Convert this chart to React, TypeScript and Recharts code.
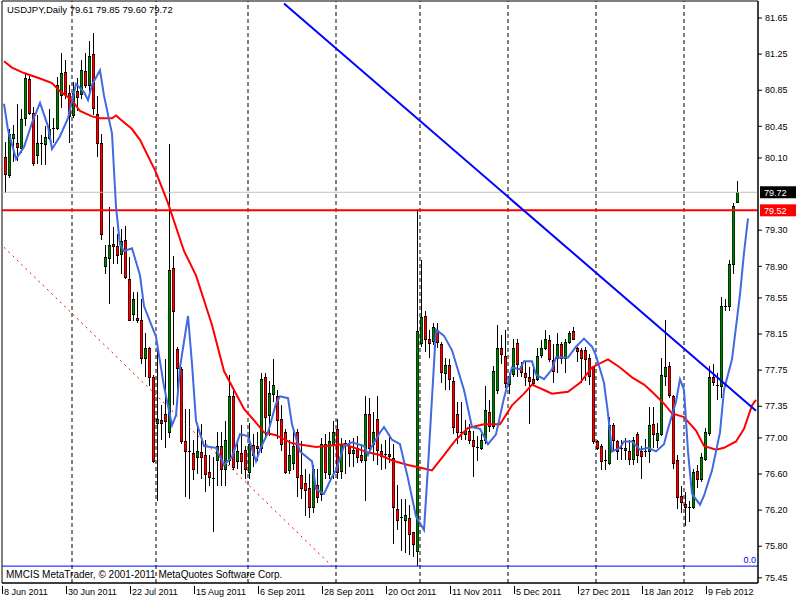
import { Bar, ComposedChart, Line, ReferenceArea, ReferenceLine, XAxis, YAxis } from 'recharts';

const FONT = '"Liberation Sans", Arial, sans-serif';
const Y_MIN = 75.393;
const Y_MAX = 81.838;
// bars on screen plus the room taken by the shifted moving averages
const SLOTS = 189;

const opens = [
  80.11, 79.91, 80.32, 80.26, 80.21, 80.54, 80.97, 80.6, 80.13, 80.25, 80.25, 80.32, 80.42, 80.43, 80.8, 81.05,
  80.82, 80.58, 80.84, 80.81, 81.06, 80.91, 81.25, 80.59, 80.26, 78.9, 78.99, 79.15, 79.12, 79.04, 79.19, 78.76,
  78.37, 78.33, 78.3, 77.89, 77.99, 77.67, 77.17, 77.2, 77.27, 77.06, 78.88, 77.98, 77.76, 76.96, 76.86, 76.83,
  76.79, 76.84, 76.81, 76.62, 76.56, 76.76, 76.91, 76.66, 76.76, 77.46, 76.74, 76.83, 76.87, 76.62, 76.92, 76.91,
  76.89, 77.67, 77.25, 77.49, 77.46, 77.21, 77.06, 76.64, 76.72, 77.07, 76.59, 76.5, 76.45, 76.23, 76.48, 76.38,
  76.93, 76.6, 76.93, 77.1, 76.63, 76.93, 76.91, 76.83, 76.89, 76.81, 76.76, 77.27, 76.93, 77.21, 76.85, 76.81,
  76.82, 76.78, 76.21, 76.11, 76.09, 76.11, 75.96, 75.75, 78.05, 78.35, 78.1, 78.07, 78.2, 78.04, 77.72, 77.81,
  77.63, 77.27, 77.06, 77.04, 77.08, 76.98, 76.89, 76.89, 76.98, 77.29, 77.13, 77.53, 77.99, 77.91, 77.6, 77.71,
  78.05, 77.8, 77.72, 77.67, 77.65, 77.65, 77.92, 77.99, 78.08, 77.86, 77.89, 78.04, 77.89, 78.06, 78.18, 77.99,
  77.97, 77.97, 77.89, 77.78, 76.96, 76.91, 76.76, 76.72, 77.14, 76.96, 76.89, 76.87, 76.86, 76.77, 77.04, 76.85,
  76.84, 76.85, 77.15, 76.98, 77.04, 77.69, 77.8, 77.46, 76.76, 76.36, 76.27, 76.24, 76.23, 76.63, 76.55, 76.77,
  77.05, 77.67, 77.59, 77.57, 78.45, 78.46, 78.93, 79.61,
];
const highs = [
  80.28, 80.42, 80.47, 80.7, 80.64, 81.04, 81.02, 80.66, 80.58, 80.35, 80.45, 80.64, 80.54, 81.0, 81.26, 81.19,
  80.91, 80.94, 80.98, 81.18, 81.26, 81.4, 81.48, 80.79, 80.37, 79.14, 79.56, 79.33, 79.26, 79.31, 79.35, 79.0,
  78.61, 78.61, 78.54, 78.16, 78.01, 77.7, 78.04, 77.36, 77.87, 80.25, 79.01, 78.01, 77.78, 77.32, 77.32, 76.98,
  77.17, 77.15, 76.98, 76.81, 76.79, 77.06, 77.06, 77.19, 77.7, 77.53, 76.98, 77.14, 76.91, 77.17, 77.04, 77.06,
  77.72, 77.72, 77.63, 77.87, 77.53, 77.36, 77.1, 76.98, 77.1, 77.1, 76.96, 76.66, 76.6, 76.7, 76.66, 77.0,
  77.04, 77.06, 77.19, 77.21, 77.0, 76.98, 76.98, 77.0, 77.02, 76.93, 77.46, 77.44, 77.29, 77.46, 76.93, 76.98,
  77.04, 76.93, 76.48, 76.32, 76.32, 76.26, 75.96, 79.53, 78.97, 78.41, 78.2, 78.27, 78.27, 78.06, 77.89, 77.87,
  77.67, 77.4, 77.4, 77.2, 77.15, 77.08, 77.02, 77.04, 77.57, 77.42, 77.8, 78.25, 78.14, 78.2, 77.72, 78.1,
  78.1, 77.84, 77.84, 77.78, 77.78, 77.99, 78.08, 78.2, 78.14, 78.04, 78.16, 78.06, 78.1, 78.18, 78.23, 78.01,
  77.99, 78.01, 77.93, 77.8, 76.98, 76.93, 76.87, 77.23, 77.17, 76.98, 76.98, 77.0, 76.98, 77.01, 77.06, 76.91,
  76.99, 77.34, 77.34, 77.17, 77.89, 78.31, 77.84, 77.48, 76.81, 76.47, 76.4, 76.3, 76.65, 76.7, 76.83, 77.11,
  77.8, 77.82, 77.72, 78.56, 78.54, 78.97, 79.6, 79.85,
];
const lows = [
  79.71, 79.88, 80.05, 80.07, 80.16, 80.45, 80.58, 80.01, 80.03, 80.02, 80.02, 80.3, 80.26, 80.41, 80.65, 80.75,
  80.26, 80.54, 80.62, 80.75, 80.87, 80.79, 80.58, 80.11, 79.19, 78.81, 78.48, 78.93, 78.93, 78.82, 78.76, 78.3,
  78.29, 78.27, 77.82, 77.67, 77.57, 76.72, 76.3, 76.98, 76.89, 77.0, 77.36, 77.48, 76.93, 76.34, 76.32, 76.53,
  76.6, 76.55, 76.4, 76.47, 75.96, 76.47, 76.47, 76.47, 76.7, 76.64, 76.66, 76.6, 76.55, 76.55, 76.68, 76.74,
  76.83, 77.02, 77.02, 77.4, 76.99, 76.85, 76.6, 76.6, 76.64, 76.34, 76.32, 76.13, 76.11, 76.17, 76.28, 76.3,
  76.55, 76.55, 76.55, 76.55, 76.55, 76.6, 76.68, 76.68, 76.72, 76.72, 76.3, 76.87, 76.74, 76.7, 76.64, 76.66,
  76.72, 75.83, 75.98, 75.75, 75.72, 75.7, 75.68, 75.58, 78.01, 77.95, 77.89, 78.03, 78.0, 77.61, 77.53, 77.53,
  77.04, 76.93, 76.98, 76.98, 76.93, 76.57, 76.74, 76.87, 76.93, 77.06, 77.1, 77.49, 77.82, 77.55, 77.49, 77.67,
  77.67, 77.67, 77.57, 77.15, 77.59, 77.63, 77.89, 77.97, 77.84, 77.61, 77.72, 77.82, 77.72, 78.04, 78.08, 77.84,
  77.61, 77.63, 77.59, 76.93, 76.87, 76.64, 76.64, 76.7, 76.87, 76.76, 76.76, 76.76, 76.7, 76.7, 76.72, 76.55,
  76.79, 76.72, 76.89, 76.89, 77.02, 77.57, 77.44, 76.66, 76.21, 76.17, 76.02, 76.07, 76.21, 76.45, 76.51, 76.74,
  77.02, 77.57, 77.42, 77.44, 78.41, 78.4, 78.82, 79.6,
];
const closes = [
  79.92, 80.37, 80.37, 80.22, 80.53, 80.98, 80.6, 80.04, 80.27, 80.26, 80.33, 80.42, 80.43, 80.91, 81.04, 80.81,
  80.56, 80.82, 80.78, 81.07, 80.91, 81.23, 80.65, 80.26, 79.26, 79.0, 79.14, 79.12, 79.03, 79.18, 78.78, 78.3,
  78.54, 78.3, 77.89, 77.99, 77.67, 76.74, 77.21, 77.16, 77.19, 78.86, 78.4, 77.77, 76.96, 76.86, 76.84, 76.66,
  76.85, 76.79, 76.6, 76.57, 76.55, 76.91, 76.65, 76.98, 77.46, 76.68, 76.85, 76.74, 76.65, 76.93, 76.81, 76.89,
  77.65, 77.23, 77.5, 77.59, 77.2, 76.93, 76.62, 76.81, 76.91, 76.57, 76.45, 76.42, 76.23, 76.66, 76.35, 76.93,
  76.62, 76.97, 77.06, 76.62, 76.93, 76.94, 76.83, 76.87, 76.79, 76.76, 77.27, 76.89, 77.06, 76.87, 76.8, 76.82,
  76.8, 76.23, 76.09, 76.12, 76.15, 75.94, 75.83, 78.18, 78.34, 78.09, 78.05, 78.23, 78.06, 77.73, 77.81, 77.65,
  77.12, 77.06, 77.07, 77.08, 76.98, 76.91, 76.9, 76.98, 77.31, 77.13, 77.74, 77.99, 77.93, 77.61, 77.69, 77.99,
  77.82, 77.73, 77.67, 77.63, 77.61, 77.91, 77.99, 78.1, 77.87, 77.74, 78.04, 77.89, 78.06, 78.16, 78.1, 77.96,
  77.89, 77.87, 77.68, 76.96, 76.89, 76.74, 76.74, 77.14, 76.98, 76.85, 76.88, 76.89, 76.77, 76.98, 76.81, 76.8,
  76.85, 77.14, 77.04, 77.05, 77.7, 77.79, 77.48, 76.72, 76.35, 76.29, 76.24, 76.23, 76.62, 76.55, 76.79, 77.06,
  77.67, 77.62, 77.58, 78.46, 78.46, 78.93, 79.57, 79.72,
];

const slowMa: [number, number][] = [
  [0, 81.17], [2, 81.1], [5, 81.04], [9, 80.98], [12, 80.93], [14, 80.84], [17, 80.74], [19, 80.62],
  [22, 80.56], [24, 80.54], [27, 80.54], [28, 80.57], [29, 80.53], [32, 80.42], [34, 80.3], [38, 79.94],
  [41, 79.6], [45, 79.07], [48, 78.8], [52, 78.25], [55, 77.74], [60, 77.32], [63, 77.17], [65, 77.06],
  [68, 77.03], [72, 76.94], [78, 76.9], [85, 76.93], [91, 76.84], [94, 76.81], [97, 76.75], [101, 76.7],
  [105, 76.66], [107, 76.64], [110, 76.81], [113, 76.98], [116, 77.11], [120, 77.15], [124, 77.15],
  [127, 77.36], [130, 77.49], [132, 77.59], [135, 77.53], [137, 77.49], [141, 77.51], [144, 77.61],
  [147, 77.78], [151, 77.87], [154, 77.78], [157, 77.67], [160, 77.59], [162, 77.51], [165, 77.38],
  [167, 77.27], [170, 77.23], [173, 77.08], [175, 76.91], [178, 76.87], [180, 76.89], [183, 76.96],
  [185, 77.1], [187, 77.36], [188, 77.42],
];
const fastMa: [number, number][] = [
  [0, 80.7], [1, 80.41], [3, 80.09], [5, 80.22], [7, 80.49], [9, 80.71], [11, 80.45], [12, 80.2],
  [14, 80.34], [16, 80.54], [18, 80.92], [20, 80.83], [21, 80.74], [22, 80.91], [24, 81.07], [25, 80.79],
  [27, 80.37], [28, 79.56], [29, 79.14], [30, 79.07], [32, 79.1], [34, 78.8], [35, 78.46], [38, 78.12],
  [40, 77.57], [42, 77.14], [43, 77.25], [44, 77.78], [46, 78.35], [47, 77.82], [48, 77.19], [50, 76.91],
  [53, 76.89], [55, 76.7], [57, 76.79], [59, 77.04], [61, 77.02], [63, 76.74], [64, 76.87], [66, 77.06],
  [68, 77.38], [69, 77.46], [71, 77.44], [72, 77.15], [74, 76.85], [77, 76.74], [78, 76.43], [80, 76.38],
  [82, 76.57], [83, 76.64], [85, 76.91], [87, 76.95], [90, 76.91], [91, 76.81], [92, 76.91], [94, 77.06],
  [95, 77.12], [97, 76.98], [99, 76.93], [101, 76.55], [103, 76.13], [105, 75.98], [106, 76.68],
  [108, 78.2], [110, 78.13], [112, 77.97], [115, 77.53], [117, 77.12], [119, 77.1], [121, 76.93],
  [123, 77.04], [125, 77.44], [127, 77.78], [129, 77.76], [130, 77.85], [132, 77.85], [133, 77.7],
  [135, 77.65], [137, 77.76], [138, 77.89], [141, 77.89], [143, 78.01], [145, 78.1], [147, 78.01],
  [148, 77.91], [150, 77.61], [151, 77.27], [152, 76.85], [154, 76.89], [155, 76.96], [157, 76.96],
  [159, 76.87], [161, 76.89], [163, 76.85], [165, 76.93], [166, 77.1], [168, 77.4], [169, 77.65],
  [170, 77.53], [171, 76.85], [172, 76.38], [174, 76.26], [175, 76.36], [177, 76.64], [179, 77.06],
  [180, 77.53], [182, 77.87], [184, 78.59], [185, 79.05], [186, 79.43],
];

const dateLabels = [
  '8 Jun 2011', '30 Jun 2011', '22 Jul 2011', '15 Aug 2011', '6 Sep 2011', '28 Sep 2011',
  '20 Oct 2011', '11 Nov 2011', '5 Dec 2011', '27 Dec 2011', '18 Jan 2012', '9 Feb 2012',
];
const LABEL_STEP = 16;
const monthStarts = [17, 38, 61, 83, 104, 126, 148, 170];
const priceTicks = [
  81.65, 81.25, 80.85, 80.45, 80.1, 79.3, 78.9, 78.55, 78.15, 77.75, 77.35, 77.0, 76.6, 76.2, 75.8, 75.45,
];

const bidPrice = 79.72;
const levelPrice = 79.52;
const fiboZero = 75.58;
const trendLine = [{ x: 70, y: 81.81 }, { x: 188, y: 77.3 }];
const fiboLine = [{ x: 0, y: 79.11 }, { x: 82, y: 75.58 }];

const slowByBar = new Map(slowMa);
const fastByBar = new Map(fastMa);

const data = Array.from({ length: SLOTS }, (_, i) => {
  const has = i < closes.length;
  return {
    i,
    range: has ? [lows[i], highs[i]] : null,
    open: has ? opens[i] : null,
    high: has ? highs[i] : null,
    low: has ? lows[i] : null,
    close: has ? closes[i] : null,
    slow: slowByBar.get(i) ?? null,
    fast: fastByBar.get(i) ?? null,
  };
});

function Candle(props: any) {
  const { x, y, width, height, payload } = props;
  if (payload == null || payload.open == null) return null;
  const { open, close, high, low } = payload;
  const top = Math.min(y, y + height);
  const h = Math.abs(height);
  const k = high === low ? 0 : h / (high - low);
  const yOf = (v: number) => top + (high - v) * k;
  const cx = Math.round(x + width / 2);
  const bodyTop = Math.round(yOf(Math.max(open, close)));
  const bodyBot = Math.round(yOf(Math.min(open, close)));
  const up = close > open;
  const wick = <line x1={cx + 0.5} x2={cx + 0.5} y1={top} y2={top + h} stroke="#000" strokeWidth={1} />;
  if (bodyBot - bodyTop < 2) {
    return (
      <g shapeRendering="crispEdges">
        {wick}
        <rect x={cx - 1} y={bodyTop} width={3} height={1} fill="#000" />
      </g>
    );
  }
  return (
    <g shapeRendering="crispEdges">
      {wick}
      <rect x={cx - 1} y={bodyTop} width={3} height={bodyBot - bodyTop + 1} fill={up ? '#008000' : '#ff0000'} />
      <rect x={cx - 1} y={bodyTop} width={3} height={1} fill="#000" />
      <rect x={cx - 1} y={bodyBot} width={3} height={1} fill="#000" />
      <rect x={cx - 1} y={bodyTop} width={1} height={bodyBot - bodyTop} fill="#000" fillOpacity={0.55} />
      <rect x={cx + 1} y={bodyTop} width={1} height={bodyBot - bodyTop} fill="#000" fillOpacity={0.55} />
    </g>
  );
}

function DateTick(props: any) {
  const { x, payload } = props;
  const label = payload.value % LABEL_STEP === 0 ? dateLabels[payload.value / LABEL_STEP] : undefined;
  if (!label) return null;
  return (
    <g>
      <line x1={x - 1.5} x2={x - 1.5} y1={586} y2={594} stroke="#000" strokeWidth={1} />
      <text x={x} y={595} fontSize={9} fontFamily={FONT} fill="#000">
        {label}
      </text>
    </g>
  );
}

function PriceTag(props: any) {
  const { viewBox, text, bg } = props;
  if (!viewBox) return null;
  const left = viewBox.x + viewBox.width + 2;
  return (
    <g>
      <rect x={left} y={viewBox.y - 6} width={36} height={12} fill={bg} />
      <text x={left + 4} y={viewBox.y + 3.5} fontSize={9} fontFamily={FONT} fill="#fff">
        {text}
      </text>
    </g>
  );
}

function FiboTag(props: any) {
  const { viewBox } = props;
  if (!viewBox) return null;
  return (
    <text x={viewBox.x + viewBox.width - 2} y={viewBox.y - 3} textAnchor="end" fontSize={9} fontFamily={FONT} fill="#0000ff">
      0.0
    </text>
  );
}

function FrameTexts(props: any) {
  const { viewBox } = props;
  if (!viewBox) return null;
  return (
    <g fontFamily={FONT} fill="#000">
      <text x={viewBox.x + 5} y={viewBox.y + 12} fontSize={9.5}>
        USDJPY,Daily 79.61 79.85 79.60 79.72
      </text>
      <text x={viewBox.x + 4} y={viewBox.y + viewBox.height - 5} fontSize={10}>
        MMCIS MetaTrader, © 2001-2011 MetaQuotes Software Corp.
      </text>
    </g>
  );
}

export default function App() {
  return (
    <div style={{ position: 'absolute', left: 0, top: 0, width: 800, height: 600, background: '#fff' }}>
      <ComposedChart width={800} height={600} data={data} margin={{ top: 1, right: 0, bottom: 0, left: 2 }}>
        <XAxis
          dataKey="i"
          type="category"
          height={17}
          interval={0}
          tickLine={false}
          tickSize={0}
          axisLine={{ stroke: '#000' }}
          tick={<DateTick />}
        />
        <YAxis
          orientation="right"
          width={42}
          domain={[Y_MIN, Y_MAX]}
          allowDataOverflow
          ticks={priceTicks}
          interval={0}
          tickSize={4}
          tickMargin={3}
          tickFormatter={(v: number) => v.toFixed(2)}
          axisLine={{ stroke: '#000' }}
          tickLine={{ stroke: '#000' }}
          tick={{ fontSize: 9, fill: '#000', fontFamily: FONT, textAnchor: 'start' }}
        />
        <ReferenceArea y1={Y_MIN} y2={Y_MAX} fill="none" fillOpacity={0} stroke="#000" strokeOpacity={1} label={<FrameTexts />} />
        {monthStarts.map((m) => (
          <ReferenceLine key={m} x={m} stroke="#000" strokeDasharray="4 3" strokeWidth={1} />
        ))}
        <ReferenceLine y={bidPrice} stroke="#c0c0c0" strokeWidth={1} label={<PriceTag text="79.72" bg="#000" />} />
        <ReferenceLine y={levelPrice} stroke="#ff0000" strokeWidth={2} label={<PriceTag text="79.52" bg="#ff0000" />} />
        <ReferenceLine y={fiboZero} stroke="#0000ff" strokeWidth={1} label={<FiboTag />} />
        <ReferenceLine segment={fiboLine} stroke="#ff0000" strokeDasharray="2 4" strokeWidth={1} />
        <Bar dataKey="range" barSize={3} shape={<Candle />} isAnimationActive={false} />
        <Line dataKey="slow" stroke="#ff0000" strokeWidth={2} dot={false} connectNulls isAnimationActive={false} />
        <Line dataKey="fast" stroke="#4169e1" strokeWidth={2} dot={false} connectNulls isAnimationActive={false} />
        <ReferenceLine segment={trendLine} stroke="#0000ff" strokeWidth={2} />
      </ComposedChart>
    </div>
  );
}
